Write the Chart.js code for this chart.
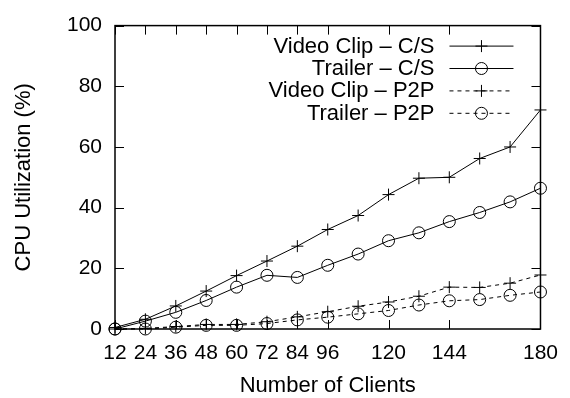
<!DOCTYPE html>
<html>
<head>
<meta charset="utf-8">
<script src="https://cdn.jsdelivr.net/npm/chart.js@4.4.0/dist/chart.umd.min.js"></script>
<style>
  html, body { margin: 0; padding: 0; background: #fff; }
  #wrap { width: 570px; height: 398px; }
</style>
</head>
<body>
<div id="wrap"><canvas id="cpu-chart" width="570" height="398"></canvas></div>
<script>
// data
const clients = [12, 24, 36, 48, 60, 72, 84, 96, 108, 120, 132, 144, 156, 168, 180];
const xTickValues = [12, 24, 36, 48, 60, 72, 84, 96, 120, 144, 180];
const yTickValues = [0, 20, 40, 60, 80, 100];

const videoClipCS = [0.5, 3.2, 7.6, 12.5, 17.6, 22.4, 27.3, 32.8, 37.4, 44.3, 49.7, 50.0, 56.2, 60.0, 72.2];
const trailerCS = [0, 2.6, 5.5, 9.4, 13.8, 17.7, 17.0, 21.0, 24.7, 29.1, 31.7, 35.4, 38.4, 41.9, 46.4];
const videoClipP2P = [0, 0.2, 0.8, 1.5, 1.5, 2.4, 4.0, 5.7, 7.5, 8.9, 10.8, 13.8, 13.7, 15.1, 17.8];
const trailerP2P = [0, 0, 0.6, 1.2, 1.2, 1.8, 3.0, 3.9, 5.0, 6.1, 7.9, 9.3, 9.7, 11.1, 12.2];

const seriesLabels = ['Video Clip \u2013 C/S', 'Trailer \u2013 C/S', 'Video Clip \u2013 P2P', 'Trailer \u2013 P2P'];

const FONT = 'Liberation Sans, Arial, Helvetica, sans-serif';

function toPoints(values) {
  return values.map((v, i) => ({ x: clients[i], y: v }));
}

function makeSet(label, values, style, dashed) {
  return {
    label: label,
    data: toPoints(values),
    borderColor: '#000',
    borderWidth: 1,
    borderDash: dashed ? [4, 4] : [],
    pointStyle: style,
    pointRadius: 6,
    pointHoverRadius: 6,
    pointBorderColor: '#000',
    pointBackgroundColor: 'rgba(0,0,0,0)',
    pointBorderWidth: 1,
    fill: false,
    tension: 0,
    clip: false
  };
}

// frame + inward tick marks on all four sides
const frameTicks = {
  id: 'frameTicks',
  afterDraw(chart) {
    const { ctx, chartArea: a, scales } = chart;
    const len = 9;
    ctx.save();
    ctx.strokeStyle = '#000';
    ctx.lineWidth = 1.5;
    ctx.setLineDash([]);
    ctx.strokeRect(a.left, a.top, a.right - a.left, a.bottom - a.top);
    ctx.lineWidth = 1;
    ctx.beginPath();
    xTickValues.forEach(v => {
      const px = Math.round(scales.x.getPixelForValue(v)) + 0.5;
      ctx.moveTo(px, a.bottom); ctx.lineTo(px, a.bottom - len);
      ctx.moveTo(px, a.top); ctx.lineTo(px, a.top + len);
    });
    yTickValues.forEach(v => {
      const py = Math.round(scales.y.getPixelForValue(v)) + 0.5;
      ctx.moveTo(a.left, py); ctx.lineTo(a.left + len, py);
      ctx.moveTo(a.right, py); ctx.lineTo(a.right - len, py);
    });
    ctx.stroke();
    ctx.restore();
  }
};

// key inside the plot, text right-aligned then sample line
const innerLegend = {
  id: 'innerLegend',
  afterDraw(chart) {
    const { ctx, chartArea: a } = chart;
    const textRight = a.right - 106;
    const lineStart = a.right - 91;
    const lineEnd = a.right - 27;
    const rowH = 22.4;
    ctx.save();
    ctx.font = '22px ' + FONT;
    ctx.textAlign = 'right';
    ctx.textBaseline = 'middle';
    chart.data.datasets.forEach((ds, i) => {
      const y = a.top + 20 + i * rowH;
      ctx.fillStyle = '#000';
      ctx.fillText(ds.label, textRight, y + 1);
      ctx.strokeStyle = '#000';
      ctx.lineWidth = 1;
      ctx.setLineDash(ds.borderDash);
      ctx.beginPath();
      ctx.moveTo(lineStart, y + 0.5);
      ctx.lineTo(lineEnd, y + 0.5);
      ctx.stroke();
      ctx.setLineDash([]);
      ctx.fillStyle = 'rgba(0,0,0,0)';
      Chart.helpers.drawPoint(ctx, { pointStyle: ds.pointStyle, radius: 6, borderWidth: 1, rotation: 0 },
        (lineStart + lineEnd) / 2, y + 0.5);
    });
    ctx.restore();
  }
};

const ctx = document.getElementById('cpu-chart').getContext('2d');

const chart = new Chart(ctx, {
  type: 'line',
  data: {
    datasets: [
      makeSet(seriesLabels[0], videoClipCS, 'cross', false),
      makeSet(seriesLabels[1], trailerCS, 'circle', false),
      makeSet(seriesLabels[2], videoClipP2P, 'cross', true),
      makeSet(seriesLabels[3], trailerP2P, 'circle', true)
    ]
  },
  options: {
    responsive: false,
    animation: false,
    devicePixelRatio: 1,
    layout: { padding: { top: 19, right: 27, left: 0, bottom: 0 } },
    scales: {
      x: {
        type: 'linear',
        min: 12,
        max: 180,
        afterBuildTicks: scale => { scale.ticks = xTickValues.map(v => ({ value: v })); },
        afterFit: scale => { scale.height = 69; },
        grid: { display: false, drawTicks: false },
        border: { display: false },
        ticks: { color: '#000', font: { family: FONT, size: 21 }, padding: 12, maxRotation: 0, autoSkip: false },
        title: { display: true, text: 'Number of Clients', color: '#000', font: { family: FONT, size: 22, lineHeight: 1 }, padding: { top: 0, bottom: 1 } }
      },
      y: {
        min: 0,
        max: 100,
        afterBuildTicks: scale => { scale.ticks = yTickValues.map(v => ({ value: v })); },
        afterFit: scale => { scale.width = 115; },
        grid: { display: false, drawTicks: false },
        border: { display: false },
        ticks: { color: '#000', font: { family: FONT, size: 21 }, padding: 13 },
        title: { display: true, text: 'CPU Utilization (%)', color: '#000', font: { family: FONT, size: 22, lineHeight: 1 }, padding: { top: 13, bottom: 0 } }
      }
    },
    plugins: {
      legend: { display: false },
      tooltip: { enabled: false }
    }
  },
  plugins: [frameTicks, innerLegend]
});
</script>
</body>
</html>
